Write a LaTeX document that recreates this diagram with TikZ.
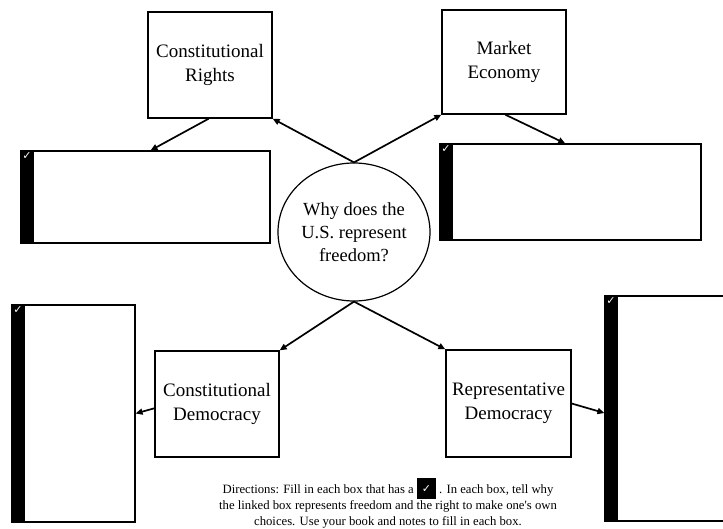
\documentclass[tikz,border=0pt]{standalone}
\usepackage{fontspec}
\setmainfont{Liberation Serif}
\newfontfamily\symfont{DejaVu Sans}
\usetikzlibrary{shapes.geometric,arrows.meta,calc}

\tikzset{
  topic/.style={draw, line width=1.3pt, align=center, inner sep=0pt,
    font=\fontsize{19}{24}\selectfont},
  answer/.style={draw, line width=1.1pt, inner sep=0pt,
    path picture={
      \fill (path picture bounding box.north west)
        rectangle ([xshift=13pt]path picture bounding box.south west);
    }},
  tick/.style={text=white, inner sep=0pt, anchor=north,
    font=\symfont\bfseries\fontsize{11}{11}\selectfont},
  link/.style={line width=1.7pt, -{Triangle[length=7pt,width=6pt]}},
}

\newcommand{\checkicon}{\raisebox{-2.5pt}{\colorbox{black}{\makebox[13pt]{\rule{0pt}{15pt}\raisebox{3.5pt}{\textcolor{white}{\symfont\bfseries\fontsize{11}{11}\selectfont ✓}}}}}}

\begin{document}
\begin{tikzpicture}[x=1pt,y=-1pt]
  \useasboundingbox (0,0) rectangle (723,529);
  \fill[white] (0,0) rectangle (723,529);
  \clip (0,0) rectangle (723,529);

  % central question
  \node[ellipse, draw, line width=1.2pt, minimum width=152pt, minimum height=138pt,
        inner sep=0pt, align=center, font=\fontsize{18.5}{23}\selectfont]
    (q) at (354,232) {Why does the\\U.S. represent\\freedom?};

  % topic boxes
  \node[topic, minimum width=124pt, minimum height=106pt] (cr) at (210,65)
    {Constitutional\\Rights};
  \node[topic, minimum width=124pt, minimum height=104pt] (me) at (504,62)
    {Market\\Economy};
  \node[topic, minimum width=124pt, minimum height=106pt] (cd) at (217,404)
    {Constitutional\\Democracy};
  \node[topic, minimum width=125pt, minimum height=107pt] (rd) at (508.5,403.5)
    {Representative\\Democracy};

  % boxes to fill in, each with a check mark on its black strip
  \node[answer, minimum width=249pt, minimum height=92pt] (acr) at (145.5,197) {};
  \node[answer, minimum width=261pt, minimum height=96pt] (ame) at (570.5,192) {};
  \node[answer, minimum width=123pt, minimum height=217pt] (acd) at (73.5,413.5) {};
  \node[answer, minimum width=130pt, minimum height=225pt] (ard) at (670,408.5) {};
  \node[tick] (tcr) at ([xshift=6.5pt,yshift=-2pt]acr.north west) {✓};
  \node[tick] (tme) at ([xshift=6.5pt,yshift=-2pt]ame.north west) {✓};
  \node[tick] (tcd) at ([xshift=6.5pt,yshift=-2pt]acd.north west) {✓};
  \node[tick] (trd) at ([xshift=6.5pt,yshift=-2pt]ard.north west) {✓};

  % connectors
  \draw[link] (q.north) -- (cr.south east);
  \draw[link] (q.north) -- (me.south west);
  \draw[link] (q.south) -- (cd.north east);
  \draw[link] (q.south) -- (rd.north west);
  \draw[link] ($(cr.south west)!0.49!(cr.south east)$)
    -- ($(acr.north west)!0.52!(acr.north east)$);
  \draw[link] ($(me.south west)!0.51!(me.south east)$)
    -- ($(ame.north west)!0.48!(ame.north east)$);
  \draw[link] ($(cd.north west)!0.54!(cd.south west)$)
    -- ($(acd.north east)!0.5!(acd.south east)$);
  \draw[link] ($(rd.north east)!0.5!(rd.south east)$)
    -- ($(ard.north west)!0.52!(ard.south west)$);

  % directions
  \node[align=center, inner sep=0pt, font=\fontsize{12.7}{16}\selectfont]
    (dir) at (388,503.5)
    {Directions: Fill in each box that has a \checkicon\ . In each box, tell why\\
     the linked box represents freedom and the right to make one\textquotesingle s own\\
     choices. Use your book and notes to fill in each box.};
\end{tikzpicture}
\end{document}
